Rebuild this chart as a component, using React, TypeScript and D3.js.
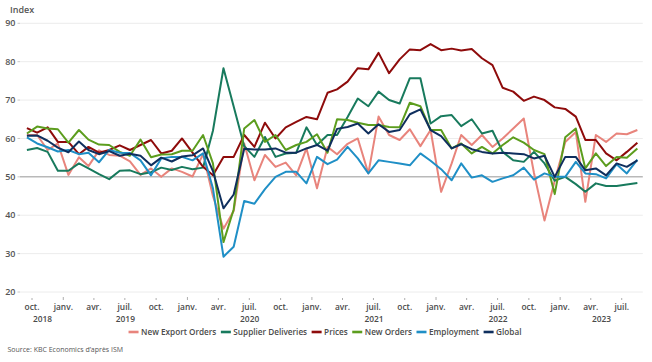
import React, { useLayoutEffect, useRef, useState } from "react";
import * as d3 from "d3";

const width = 652;
const height = 362;
const plot = { left: 21.8, right: 642.8, top: 23.3, bottom: 292 };

// monthly observations, Sep 2018 .. Aug 2023
const months = [
  "2018-09", "2018-10", "2018-11", "2018-12",
  "2019-01", "2019-02", "2019-03", "2019-04", "2019-05", "2019-06",
  "2019-07", "2019-08", "2019-09", "2019-10", "2019-11", "2019-12",
  "2020-01", "2020-02", "2020-03", "2020-04", "2020-05", "2020-06",
  "2020-07", "2020-08", "2020-09", "2020-10", "2020-11", "2020-12",
  "2021-01", "2021-02", "2021-03", "2021-04", "2021-05", "2021-06",
  "2021-07", "2021-08", "2021-09", "2021-10", "2021-11", "2021-12",
  "2022-01", "2022-02", "2022-03", "2022-04", "2022-05", "2022-06",
  "2022-07", "2022-08", "2022-09", "2022-10", "2022-11", "2022-12",
  "2023-01", "2023-02", "2023-03", "2023-04", "2023-05", "2023-06",
  "2023-07", "2023-08",
];

const newExportOrders = [
  60.9, 60.9, 57.0, 58.7, 50.5, 55.1, 52.8, 56.9, 55.7, 55.5,
  54.0, 50.5, 52.2, 50.0, 52.2, 51.3, 50.1, 55.9, 45.0, 36.5,
  41.1, 58.7, 49.1, 55.7, 52.6, 53.7, 50.4, 57.4, 47.0, 57.8,
  55.9, 58.6, 60.0, 50.9, 65.7, 60.9, 59.6, 62.4, 58.0, 62.2,
  46.1, 53.5, 60.9, 58.3, 60.9, 57.8, 60.0, 62.6, 65.2, 51.0,
  38.6, 49.0, 59.1, 61.7, 43.5, 60.9, 59.1, 61.3, 61.1, 62.2,
];

const supplierDeliveries = [
  57.0, 57.5, 56.5, 51.6, 51.6, 53.5, 52.2, 50.7, 49.4, 51.6,
  51.7, 50.7, 51.2, 52.4, 51.8, 52.6, 52.0, 52.4, 62.0, 78.3,
  68.3, 58.0, 55.2, 60.4, 55.2, 56.1, 56.3, 62.9, 58.3, 60.9,
  60.9, 65.6, 70.4, 68.4, 72.2, 70.0, 69.1, 75.7, 75.7, 63.9,
  65.8, 66.1, 63.2, 65.0, 61.3, 62.0, 56.5, 54.3, 53.9, 56.5,
  53.5, 49.0, 50.0, 48.1, 46.1, 48.3, 47.6, 47.6, 48.0, 48.4,
];

const prices = [
  62.7, 61.5, 62.9, 59.1, 59.1, 55.9, 57.8, 56.3, 57.0, 58.2,
  57.0, 58.3, 59.6, 56.1, 56.8, 60.0, 56.3, 52.6, 50.4, 55.2,
  55.2, 60.9, 57.8, 64.1, 60.0, 62.9, 64.3, 65.6, 65.0, 71.9,
  72.8, 74.8, 78.3, 78.0, 82.3, 77.0, 80.6, 83.2, 83.0, 84.6,
  83.0, 83.4, 82.9, 83.3, 80.9, 79.1, 73.2, 72.2, 69.8, 70.9,
  70.0, 68.1, 67.7, 65.7, 59.6, 59.6, 56.1, 54.3, 56.5, 58.9,
];

const newOrders = [
  61.3, 63.1, 62.6, 62.4, 58.9, 62.2, 59.7, 58.4, 58.3, 56.5,
  55.5, 59.7, 55.1, 55.8, 55.9, 56.8, 56.8, 60.9, 53.5, 33.0,
  41.5, 62.6, 64.8, 59.1, 60.9, 57.0, 58.3, 59.1, 61.1, 56.3,
  65.0, 64.8, 64.1, 63.5, 63.5, 63.0, 62.9, 69.3, 68.4, 62.2,
  62.2, 57.4, 58.7, 56.1, 57.8, 56.1, 58.3, 60.3, 58.9, 57.0,
  55.9, 45.5, 60.3, 62.6, 52.2, 56.1, 52.8, 55.2, 55.0, 57.4,
];

const employment = [
  60.3, 58.7, 57.7, 56.6, 57.0, 55.9, 56.3, 53.8, 57.0, 56.3,
  56.2, 54.3, 50.4, 54.8, 55.2, 55.2, 54.3, 56.1, 47.0, 29.2,
  31.8, 43.7, 43.0, 46.8, 50.0, 51.3, 51.3, 48.3, 55.2, 53.3,
  54.5, 57.8, 54.8, 50.9, 54.3, 53.9, 53.5, 53.0, 56.1, 54.2,
  52.0, 49.1, 53.5, 49.8, 50.4, 48.7, 49.6, 50.4, 52.4, 49.3,
  50.9, 50.0, 50.0, 53.9, 50.9, 50.7, 49.6, 53.3, 50.9, 54.5,
];

const globalIndex = [
  60.7, 60.8, 59.4, 57.6, 56.4, 59.2, 57.0, 55.9, 56.7, 55.5,
  56.0, 55.5, 53.0, 55.0, 54.0, 55.3, 55.6, 57.4, 51.5, 41.8,
  45.4, 57.3, 57.1, 57.1, 57.4, 56.3, 56.3, 57.4, 58.3, 56.8,
  62.5, 63.0, 63.9, 61.3, 63.7, 61.7, 62.2, 66.3, 67.6, 62.2,
  60.6, 57.4, 58.5, 57.2, 56.5, 56.1, 56.3, 56.1, 55.9, 54.8,
  55.5, 50.0, 55.2, 55.2, 51.7, 52.2, 50.4, 53.5, 52.6, 54.3,
];

const seriesNames = [
  "New Export Orders",
  "Supplier Deliveries",
  "Prices",
  "New Orders",
  "Employment",
  "Global",
];
const seriesValues = [
  newExportOrders,
  supplierDeliveries,
  prices,
  newOrders,
  employment,
  globalIndex,
];
const seriesColors = ["#e8847c", "#187a5d", "#8e0b0b", "#5c9d1e", "#1f8fc6", "#0f2f5e"];

const yTicks = [20, 30, 40, 50, 60, 70, 80, 90];
const monthLabels = { 0: "janv.", 3: "avr.", 6: "juil.", 9: "oct." };
const years = [2018, 2019, 2020, 2021, 2022, 2023];

const parseMonth = d3.timeParse("%Y-%m");
const domainStart = new Date(2018, 8, 1);
const domainEnd = new Date(2023, 8, 1);

const x = d3.scaleTime().domain([domainStart, domainEnd]).range([plot.left, plot.right]);
const y = d3.scaleLinear().domain([20, 90]).range([plot.bottom, plot.top]);

const midMonth = (s) => {
  const d = parseMonth(s);
  return new Date(d.getFullYear(), d.getMonth(), 16);
};

const line = d3
  .line()
  .x((d) => x(d[0]))
  .y((d) => y(d[1]));

const xTicks = d3.timeMonth
  .every(3)
  .range(new Date(2018, 9, 1), domainEnd)
  .filter((d) => d.getMonth() % 3 === 0);

const font = "'Open Sans', 'Noto Sans', sans-serif";
const labelColor = "#4a4a4a";

function Legend() {
  const refs = useRef([]);
  const [widths, setWidths] = useState(seriesNames.map((n) => n.length * 4.4));
  useLayoutEffect(() => {
    setWidths(refs.current.map((el) => (el ? el.getComputedTextLength() : 0)));
  }, []);
  const swatch = 10;
  const gap = 2.5;
  const itemGap = 4.5;
  const itemW = widths.map((w) => swatch + gap + w);
  const total = d3.sum(itemW) + itemGap * (itemW.length - 1);
  let cx = 325 - total / 2;
  return (
    <g>
      {seriesNames.map((name, i) => {
        const gx = cx;
        cx += itemW[i] + itemGap;
        return (
          <g key={name} transform={`translate(${gx},332)`}>
            <rect x={0} y={-1.3} width={swatch} height={2.6} fill={seriesColors[i]} />
            <text
              ref={(el) => (refs.current[i] = el)}
              x={swatch + gap}
              y={0}
              dy="0.35em"
              fontSize={8.2}
              fontWeight={600}
              fill={labelColor}
              fontFamily={font}
            >
              {name}
            </text>
          </g>
        );
      })}
    </g>
  );
}

export default function App() {
  return (
    <svg
      width={width}
      height={height}
      style={{ position: "absolute", left: 0, top: 0, display: "block" }}
    >
      <rect width={width} height={height} fill="#fff" />
      <text x={10} y={13} fontSize={9} fontWeight={600} fill="#555" fontFamily={font}>
        Index
      </text>

      {yTicks.map((t) => (
        <g key={t}>
          <line
            x1={20}
            x2={plot.right}
            y1={y(t)}
            y2={y(t)}
            stroke={t === 50 ? "#b9b9b9" : "#ececec"}
            strokeWidth={t === 50 ? 1.5 : 1}
          />
          <line x1={17.5} x2={20} y1={y(t)} y2={y(t)} stroke="#bbb" strokeWidth={0.8} />
          <text
            x={15.5}
            y={y(t)}
            dy="0.35em"
            textAnchor="end"
            fontSize={9}
            fontWeight={600}
            fill="#555"
            fontFamily={font}
          >
            {t}
          </text>
        </g>
      ))}

      {xTicks.map((d) => (
        <g key={+d} transform={`translate(${x(d)},0)`}>
          <line
            y1={d.getMonth() === 0 ? 297 : 298}
            y2={300}
            stroke="#999"
            strokeWidth={0.8}
          />
          <text
            y={310}
            textAnchor="middle"
            fontSize={8.4}
            fontWeight={600}
            fill={labelColor}
            fontFamily={font}
          >
            {monthLabels[d.getMonth()]}
          </text>
        </g>
      ))}

      {years.map((yr) => {
        const a = Math.max(+new Date(yr, 0, 1), +domainStart);
        const b = Math.min(+new Date(yr + 1, 0, 1), +domainEnd);
        return (
          <text
            key={yr}
            x={(x(new Date(a)) + x(new Date(b))) / 2}
            y={322}
            textAnchor="middle"
            fontSize={8.4}
            fontWeight={600}
            fill={labelColor}
            fontFamily={font}
          >
            {yr}
          </text>
        );
      })}

      {seriesValues.map((vals, i) => (
        <path
          key={seriesNames[i]}
          d={line(vals.map((v, j) => [midMonth(months[j]), v]))}
          fill="none"
          stroke={seriesColors[i]}
          strokeWidth={2}
          strokeLinejoin="round"
        />
      ))}

      <Legend />

      <text x={7.5} y={352} fontSize={7} fill="#555" fontFamily={font}>
        Source: KBC Economics d’après ISM
      </text>
    </svg>
  );
}
